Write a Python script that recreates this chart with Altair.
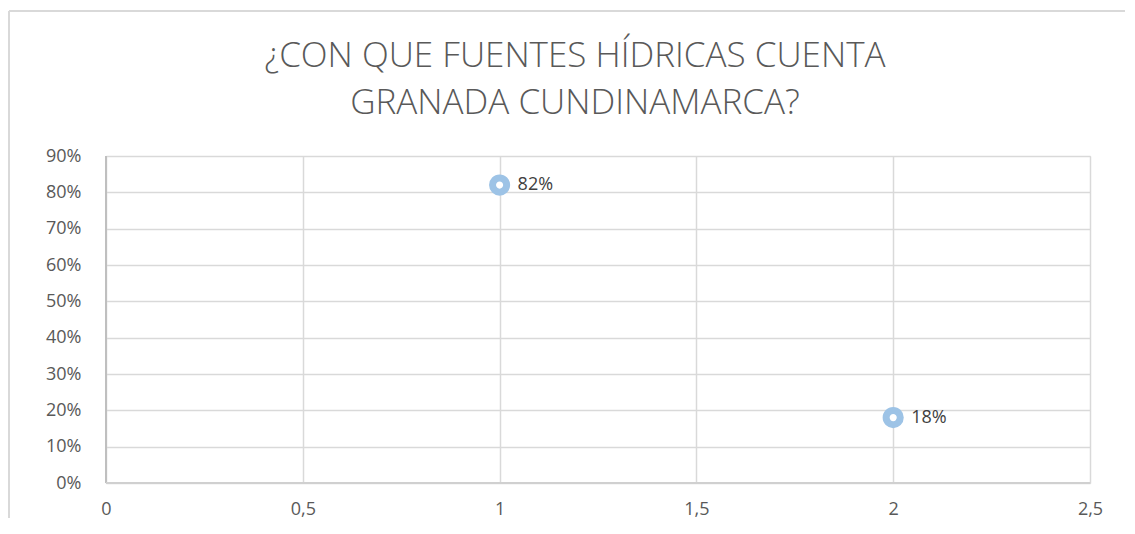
import altair as alt
import pandas as pd

# Data
x_vals = [1, 2]
y_vals = [0.82, 0.18]
labels = ["82%", "18%"]
title_lines = ["¿CON QUE FUENTES HÍDRICAS CUENTA", "GRANADA CUNDINAMARCA?"]
x_ticks = [0, 0.5, 1, 1.5, 2, 2.5]
y_ticks = [0, 0.1, 0.2, 0.3, 0.4, 0.5, 0.6, 0.7, 0.8, 0.9]

df = pd.DataFrame({"x": x_vals, "y": y_vals, "label": labels})

FONT = "Open Sans"
GRID = "#d9d9d9"

base = alt.Chart(df)

xenc = alt.X("x:Q", scale=alt.Scale(domain=[0, 2.5], nice=False),
             axis=alt.Axis(values=x_ticks, title=None,
                           labelExpr="replace(toString(datum.value), '.', ',')",
                           grid=True, gridColor=GRID, gridWidth=1.5,
                           domain=False, ticks=False, labelPadding=17,
                           labelFlush=False, labelOverlap=False,
                           labelFont=FONT, labelFontSize=18, labelColor="#595959"))
yenc = alt.Y("y:Q", scale=alt.Scale(domain=[0, 0.9], nice=False),
             axis=alt.Axis(values=y_ticks, format=".0%", title=None,
                           grid=True, gridColor=GRID, gridWidth=1.5,
                           domain=False, ticks=False, labelPadding=25,
                           labelFlush=False, labelOverlap=False,
                           labelFont=FONT, labelFontSize=18, labelColor="#595959"))

points = base.mark_point(shape="circle", filled=False, fill="white", fillOpacity=1,
                         stroke="#9dc3e6", strokeWidth=7, size=200, opacity=1).encode(
    x=xenc, y=yenc)

text = base.mark_text(align="left", baseline="middle", dx=18, font=FONT,
                      fontSize=18, color="#404040").encode(
    x=xenc, y=yenc, text="label:N")

one = alt.Data(values=[{"a": 1}])
title1 = alt.Chart(alt.Data(values=[{"t": title_lines[0]}])).mark_text(
    align="center", baseline="middle", font=FONT, fontSize=35, fontWeight=300,
    color="#595959").encode(x=alt.value(469), y=alt.value(-100), text="t:N")
title2 = alt.Chart(alt.Data(values=[{"t": title_lines[1]}])).mark_text(
    align="center", baseline="middle", font=FONT, fontSize=35, fontWeight=300,
    color="#595959").encode(x=alt.value(469), y=alt.value(-53), text="t:N")

axis_left = alt.Chart(one).mark_rule(color="#bfbfbf", strokeWidth=2).encode(
    x=alt.value(0), y=alt.value(0), y2=alt.value(327))
axis_bottom = alt.Chart(one).mark_rule(color="#d0d0d0", strokeWidth=2).encode(
    x=alt.value(0), x2=alt.value(984), y=alt.value(327))
frame_top = alt.Chart(one).mark_rule(color=GRID, strokeWidth=2).encode(
    x=alt.value(-97), x2=alt.value(1040), y=alt.value(-145))
frame_left = alt.Chart(one).mark_rule(color=GRID, strokeWidth=2).encode(
    x=alt.value(-97), y=alt.value(-145), y2=alt.value(400))

chart = alt.layer(frame_top, frame_left, points, axis_left, axis_bottom, text,
                  title1, title2).properties(
    width=984, height=327,
    autosize=alt.AutoSizeParams(type="none"),
    padding={"left": 98, "top": 148, "right": 35, "bottom": 35},
).configure_view(stroke=None).configure(background="white")

chart.save("out.html", embed_options={"renderer": "svg", "actions": False})
